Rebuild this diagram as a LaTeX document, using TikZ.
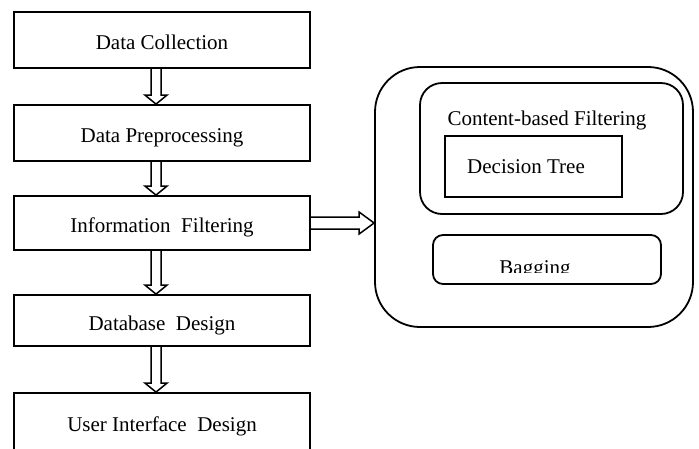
\documentclass[tikz,border=0pt]{standalone}
\usepackage{fontspec}
\setmainfont{Liberation Serif}
\usetikzlibrary{calc}

% hollow block arrow pointing down, from the bottom of #1 to the top of #2
\newcommand\flowdown[2]{%
  \draw[blk] let \p1=(#1.south), \p2=(#2.north) in
    (\x1-11pt,\y1) -- (\x1-11pt,\y2+9pt) -- (\x1-17pt,\y2+9pt) -- (\x1-6pt,\y2)
    -- (\x1+5pt,\y2+9pt) -- (\x1-1pt,\y2+9pt) -- (\x1-1pt,\y1);}
\newcommand\wgap{\hspace{0.5em}}

\begin{document}
\begin{tikzpicture}[x=1pt,y=-1pt,
  every node/.style={font=\fontsize{21}{25}\selectfont, inner sep=0pt},
  stage/.style={draw, line width=1.8pt, minimum width=296pt, text height=19pt, text depth=0pt},
  blk/.style={draw, line width=1.5pt, line join=miter},
  rbox/.style={draw, line width=1.8pt}]
\useasboundingbox (0,0) rectangle (699,448);
\clip (0,0) rectangle (699,448);

% pipeline stages
\node[stage, minimum height=56pt] (b1) at (162,40) {Data Collection};
\node[stage, minimum height=56pt] (b2) at (162,133) {Data Preprocessing};
\node[stage, minimum height=54pt] (b3) at (162,223) {Information\wgap Filtering};
\node[stage, minimum height=51pt] (b4) at (162,320.5) {Database\wgap Design};
\node[stage, minimum height=60pt, text height=16pt] (b5) at (162,423) {User Interface\wgap Design};

\flowdown{b1}{b2}
\flowdown{b2}{b3}
\flowdown{b3}{b4}
\flowdown{b4}{b5}

% filtering methods
\node[rbox, rounded corners=45pt, minimum width=318pt, minimum height=260pt] (outer) at (534,197) {};
\node[rbox, rounded corners=22pt, minimum width=263pt, minimum height=131pt] (cbf) at (551.5,148.5) {};
\node[anchor=base] (cbflabel) at (547,125) {Content-based Filtering};
\node[rbox, minimum width=177pt, minimum height=61pt] (dt) at (533.5,166.5) {};
\node[anchor=base] (dtlabel) at (526,173) {Decision Tree};
\node[rbox, rounded corners=10pt, minimum width=228pt, minimum height=49pt] (bag) at (547,259.5) {};
\begin{scope}
  \clip (433,236) rectangle (661,272);
  \node[anchor=base] (baglabel) at (535,274) {Bagging};
\end{scope}

% block arrow into the methods panel
\draw[blk] let \p1=(b3.east), \p2=(outer.west) in
  (\x1,\y1+6pt) -- (\x2-15pt,\y1+6pt) -- (\x2-15pt,\y1+11pt) -- (\x2,\y1)
  -- (\x2-15pt,\y1-11pt) -- (\x2-15pt,\y1-6pt) -- (\x1,\y1-6pt);
\end{tikzpicture}
\end{document}
